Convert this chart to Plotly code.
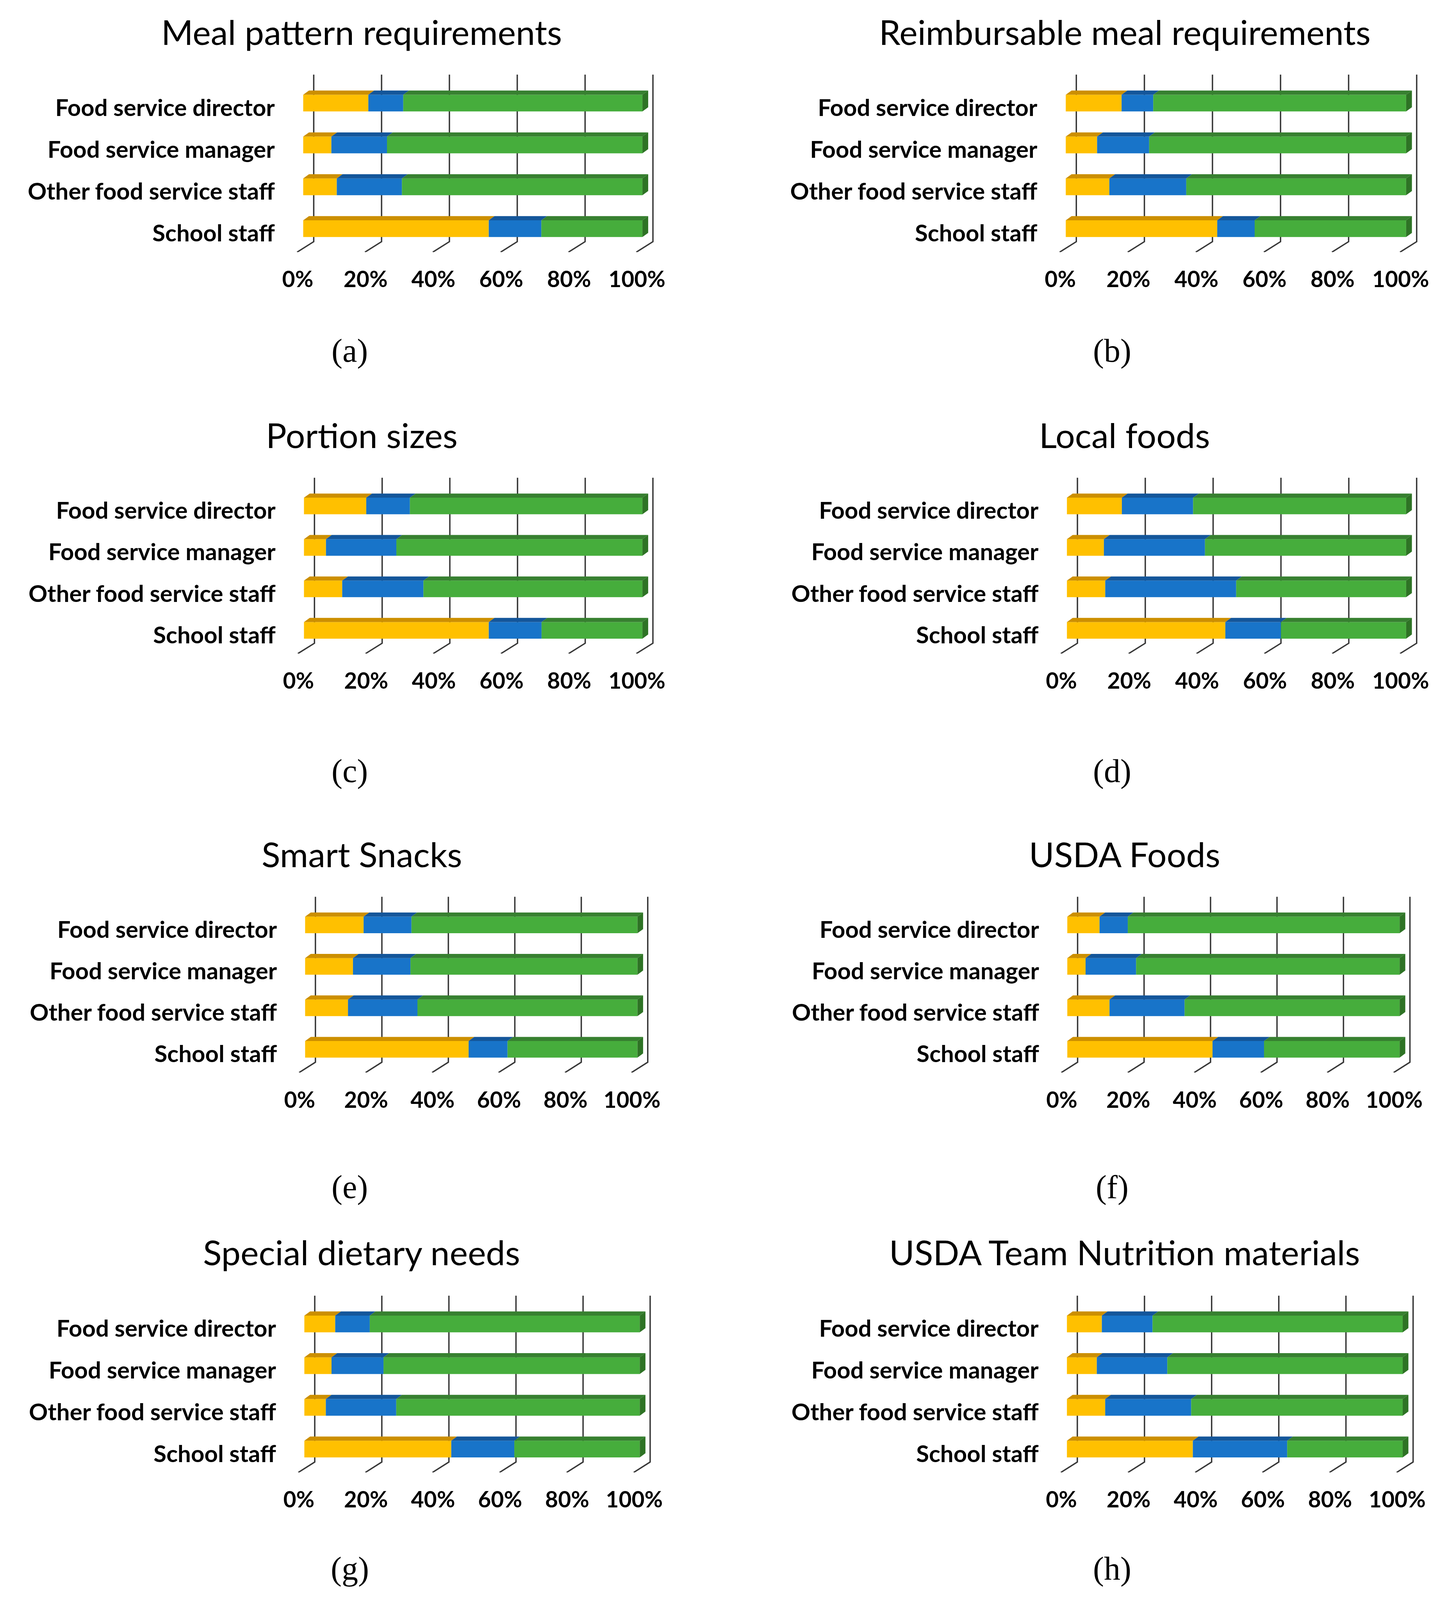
import plotly.graph_objects as go
from plotly.subplots import make_subplots

W, H = 3726, 4561

roles = ["Food service director", "Food service manager", "Other food service staff", "School staff"]
role_pos = [3, 2, 1, 0]
ticks = [0, 20, 40, 60, 80, 100]

panels = ["a", "b", "c", "d", "e", "f", "g", "h"]
titles = {
    "a": "Meal pattern requirements",
    "b": "Reimbursable meal requirements",
    "c": "Portion sizes",
    "d": "Local foods",
    "e": "Smart Snacks",
    "f": "USDA Foods",
    "g": "Special dietary needs",
    "h": "USDA Team Nutrition materials",
}

# share of answers in % per role (director, manager, other staff, school staff)
yellow = {
    "a": [19.2, 8.3, 9.9, 54.7],
    "b": [16.4, 9.2, 12.8, 44.5],
    "c": [18.4, 6.5, 11.3, 54.6],
    "d": [16.2, 10.9, 11.3, 46.7],
    "e": [17.6, 14.4, 12.9, 49.2],
    "f": [9.7, 5.5, 12.7, 43.7],
    "g": [9.2, 8.1, 6.4, 43.8],
    "h": [10.4, 8.9, 11.4, 37.5],
}
blue = {
    "a": [10.3, 16.4, 19.2, 15.5],
    "b": [9.3, 15.3, 22.6, 11.0],
    "c": [12.9, 20.8, 24.0, 15.6],
    "d": [21.0, 29.8, 38.6, 16.4],
    "e": [14.4, 17.3, 20.9, 11.7],
    "f": [8.5, 15.2, 22.6, 15.5],
    "g": [10.3, 15.5, 21.0, 18.8],
    "h": [15.1, 21.0, 25.6, 28.1],
}
green = {
    "a": [70.5, 75.3, 70.9, 29.8],
    "b": [74.3, 75.5, 64.6, 44.5],
    "c": [68.7, 72.7, 64.7, 29.8],
    "d": [62.8, 59.3, 50.1, 36.9],
    "e": [68.0, 68.3, 66.2, 39.1],
    "f": [81.8, 79.3, 64.7, 40.8],
    "g": [80.5, 76.4, 72.6, 37.4],
    "h": [74.5, 70.1, 63.0, 34.4],
}

colors = [("#FFC000", "#CC8F00"), ("#1874C9", "#14569A"), ("#46AD3C", "#378030")]
side_color = "#2E7325"

# page geometry (pixels of the 3726x4561 page) of each panel
zero_px = [752, 2746, 754, 2749, 757, 2750, 755, 2749]
full_px = [1639, 3636, 1639, 3636, 1626, 3619, 1632, 3627]
row_first = [286, 1439, 2638, 3780]
row_last = [645.5, 1795, 2994, 4138]
title_y = [82, 1235, 2435, 3574]
caption_y = [995, 2198, 3388, 4481]
title_x = [905, 2900]
caption_x = [874, 2867]

BAR_H = 0.4      # front face height
TOP_H = 0.1      # top face height
SKEW = 1.7       # top/side face shift in %
WALL = 3.1       # back wall shift in %
FLOOR = 1.8      # floor front shift in %
Y0, Y1 = -0.56, 3.68
WALL_Y = -0.31
X0, X1 = -2.5, 103.5

FONT = "Lato"

fig = make_subplots(rows=4, cols=2)

for i, p in enumerate(panels):
    row, col = i // 2 + 1, i % 2 + 1
    segs = [yellow[p], blue[p], green[p]]
    starts = []
    acc = [0.0] * len(roles)
    for s in segs:
        starts.append(list(acc))
        acc = [a + v for a, v in zip(acc, s)]

    # back wall grid and floor
    for t in ticks:
        fig.add_shape(
            type="path",
            path=f"M {t + WALL},{Y1} L {t + WALL},{WALL_Y} L {t - FLOOR},{Y0}",
            line=dict(color="#363636", width=3.5),
            layer="below", row=row, col=col,
        )

    for k, s in enumerate(segs):
        front, top = colors[k]
        fig.add_trace(go.Bar(
            y=role_pos, x=s, base=starts[k], orientation="h", width=BAR_H,
            marker=dict(color=front, line=dict(width=0)),
            showlegend=False, hoverinfo="skip",
        ), row=row, col=col)

        xs, ys = [], []
        for b, v, y in zip(starts[k], s, role_pos):
            yt = y + BAR_H / 2
            xs += [b, b + v, b + v + SKEW, b + SKEW, b, None]
            ys += [yt, yt, yt + TOP_H, yt + TOP_H, yt, None]
        fig.add_trace(go.Scatter(
            x=xs, y=ys, mode="lines", fill="toself", fillcolor=top,
            line=dict(width=0, color=top), showlegend=False, hoverinfo="skip",
        ), row=row, col=col)

    # right side of the bars
    xs, ys = [], []
    for e, y in zip(acc, role_pos):
        yb, yt = y - BAR_H / 2, y + BAR_H / 2
        xs += [e, e + SKEW, e + SKEW, e, e, None]
        ys += [yb, yb + TOP_H, yt + TOP_H, yt, yb, None]
    fig.add_trace(go.Scatter(
        x=xs, y=ys, mode="lines", fill="toself", fillcolor=side_color,
        line=dict(width=0, color=side_color), showlegend=False, hoverinfo="skip",
    ), row=row, col=col)

    scale = (full_px[i] - zero_px[i]) / 100
    left = (zero_px[i] + X0 * scale) / W
    right = (zero_px[i] + X1 * scale) / W
    u = (row_last[row - 1] - row_first[row - 1]) / 3
    top_px = row_first[row - 1] - (Y1 - 3) * u
    bot_px = row_last[row - 1] - Y0 * u

    fig.update_xaxes(
        domain=[left, right], range=[X0, X1],
        tickvals=ticks, ticktext=[f"{t}%" for t in ticks],
        ticks="", showgrid=False, zeroline=False, showline=False,
        tickfont=dict(family=FONT, size=57, color="black", weight="bold"),
        ticklabelstandoff=32, ticklabelshift=-round(1.6 * scale),
        row=row, col=col,
    )
    fig.update_yaxes(
        domain=[1 - bot_px / H, 1 - top_px / H], range=[Y0, Y1],
        tickvals=role_pos, ticktext=roles,
        ticks="", showgrid=False, zeroline=False, showline=False,
        tickfont=dict(family=FONT, size=60, color="black", weight="bold"),
        ticklabelstandoff=50, ticklabelshift=12,
        row=row, col=col,
    )

    fig.add_annotation(
        text=titles[p], xref="paper", yref="paper",
        x=title_x[col - 1] / W, y=1 - title_y[row - 1] / H,
        xanchor="center", yanchor="middle", showarrow=False,
        font=dict(family=FONT, size=88, color="black"),
    )
    fig.add_annotation(
        text=f"({p})", xref="paper", yref="paper",
        x=caption_x[col - 1] / W, y=1 - caption_y[row - 1] / H,
        xanchor="center", yanchor="middle", showarrow=False,
        font=dict(family="Liberation Serif", size=84, color="black"),
    )

# size follows the browser window so the whole grid stays visible
fig.update_layout(
    autosize=True, barmode="overlay",
    margin=dict(l=0, r=0, t=0, b=0),
    paper_bgcolor="white", plot_bgcolor="white",
)

fig.write_html("out.html")
